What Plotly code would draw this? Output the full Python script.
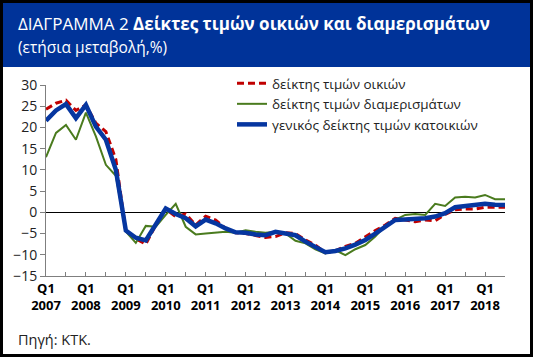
import plotly.graph_objects as go

W, H = 533, 357
L, R, T, B = 46, 505, 85, 276  # plot area in pixels

years = list(range(2007, 2019))
quarters = [f"Q{q} {y}" for y in years for q in (1, 2, 3, 4)][:47]

houses = [24.3, 25.7, 26.4, 24.0, 25.3, 21.0, 19.0, 12.5, -4.5, -6.2,
          -7.5, -3.0, 0.8, -1.0, -0.4, -3.0, -0.9, -1.8, -3.8, -4.8,
          -5.0, -5.4, -5.9, -5.7, -4.8, -5.0, -6.5, -7.7, -9.5, -9.1,
          -8.0, -7.3, -5.7, -4.3, -3.0, -1.4, -1.8, -2.2, -1.8, -2.0,
          -0.5, 0.6, 0.8, 0.8, 1.2, 1.2, 1.2]
apartments = [13.0, 18.7, 20.6, 17.1, 23.5, 17.9, 11.2, 8.6, -4.5, -7.2,
              -3.2, -3.4, -0.6, 2.0, -3.4, -5.2, -5.0, -4.8, -4.6, -4.8,
              -4.2, -4.6, -4.8, -4.6, -5.0, -6.7, -7.3, -8.7, -9.7, -8.9,
              -10.1, -8.7, -7.7, -5.7, -3.2, -1.8, -0.6, -0.4, -0.6, 2.0,
              1.5, 3.5, 3.7, 3.5, 4.1, 3.1, 3.1]
general = [21.6, 24.0, 25.5, 22.2, 25.3, 20.2, 17.1, 10.0, -4.3, -6.0,
           -6.6, -3.0, 0.9, -0.4, -1.4, -3.3, -1.7, -2.6, -3.8, -4.7,
           -4.8, -5.2, -5.4, -4.6, -5.0, -5.4, -6.9, -8.3, -9.4, -9.1,
           -8.5, -7.6, -6.5, -5.0, -3.3, -1.8, -1.7, -1.6, -1.4, -1.0,
           -0.2, 1.2, 1.5, 1.6, 2.0, 1.8, 1.7]

series_names = ["δείκτης τιμών οικιών",
                "δείκτης τιμών διαμερισμάτων",
                "γενικός δείκτης τιμών κατοικιών"]

y_ticks = [30, 25, 20, 15, 10, 5, 0, -5, -10, -15]

FONT = "Open Sans"


def px_x(p):
    return (p - L) / (R - L)


def px_y(p):
    return (B - p) / (B - T)


x = list(range(len(quarters)))
tick_idx = [i for i, q in enumerate(quarters) if q.startswith("Q1")]
tick_text = ["Q1<br>" + quarters[i].split()[1] for i in tick_idx]

fig = go.Figure()
fig.add_trace(go.Scatter(x=x, y=houses, mode="lines", name=series_names[0],
                         line=dict(color="#C00000", width=3, dash="7px,4px")))
fig.add_trace(go.Scatter(x=x, y=apartments, mode="lines", name=series_names[1],
                         line=dict(color="#4A7B1E", width=2)))
fig.add_trace(go.Scatter(x=x, y=general, mode="lines", name=series_names[2],
                         line=dict(color="#0636A0", width=4.5)))

shapes = [
    dict(type="rect", xref="paper", yref="paper",
         x0=px_x(3), x1=px_x(530), y0=px_y(354), y1=px_y(67),
         fillcolor="white", line=dict(width=0), layer="below"),
    dict(type="rect", xref="paper", yref="paper",
         x0=px_x(3), x1=px_x(530), y0=px_y(67), y1=px_y(3),
         fillcolor="#003399", line=dict(width=0), layer="below"),
]

annotations = [
    dict(xref="paper", yref="paper", x=px_x(16), y=px_y(24),
         xanchor="left", yanchor="middle", showarrow=False,
         text="ΔΙΑΓΡΑΜΜΑ 2 <b>Δείκτες τιμών οικιών και διαμερισμάτων</b>",
         font=dict(family=FONT, size=17, color="white")),
    dict(xref="paper", yref="paper", x=px_x(16), y=px_y(47),
         xanchor="left", yanchor="middle", showarrow=False,
         text="(ετήσια μεταβολή,%)",
         font=dict(family=FONT, size=15.5, color="white")),
    dict(xref="paper", yref="paper", x=px_x(16), y=px_y(339),
         xanchor="left", yanchor="middle", showarrow=False,
         text="Πηγή: ΚΤΚ.",
         font=dict(family=FONT, size=14.5, color="#222222")),
]

fig.update_layout(
    width=W, height=H,
    margin=dict(l=L, r=W - R, t=T, b=H - B, pad=0, autoexpand=False),
    paper_bgcolor="black",
    plot_bgcolor="rgba(0,0,0,0)",
    shapes=shapes,
    annotations=annotations,
    showlegend=True,
    legend=dict(xref="container", yref="container",
                x=232 / W, y=1 - 68 / H, xanchor="left", yanchor="top",
                bgcolor="rgba(0,0,0,0)", borderwidth=0,
                font=dict(family=FONT, size=13.5, color="#222222"),
                tracegroupgap=3),
    xaxis=dict(range=[0, len(quarters) - 1], showgrid=False, zeroline=False,
               automargin=False,
               showline=True, linecolor="#7f7f7f", linewidth=1,
               tickvals=tick_idx, ticktext=tick_text,
               ticks="inside", ticklen=4, tickcolor="#7f7f7f",
               minor=dict(dtick=2, tick0=0, ticks="inside", ticklen=4,
                          tickcolor="#7f7f7f", showgrid=False),
               tickfont=dict(family=FONT, size=13, color="black", weight="bold")),
    yaxis=dict(range=[-15, 30], tickvals=y_ticks, showgrid=False,
               automargin=False,
               zeroline=True, zerolinecolor="black", zerolinewidth=1,
               showline=True, linecolor="#7f7f7f", linewidth=1,
               ticks="outside", ticklen=5, tickcolor="#7f7f7f",
               tickfont=dict(family=FONT, size=14, color="#222222")),
)

fig.write_html("out.html", config=dict(displayModeBar=False),
               post_script="document.body.style.margin='0px';"
                           "document.body.style.overflow='hidden';")
